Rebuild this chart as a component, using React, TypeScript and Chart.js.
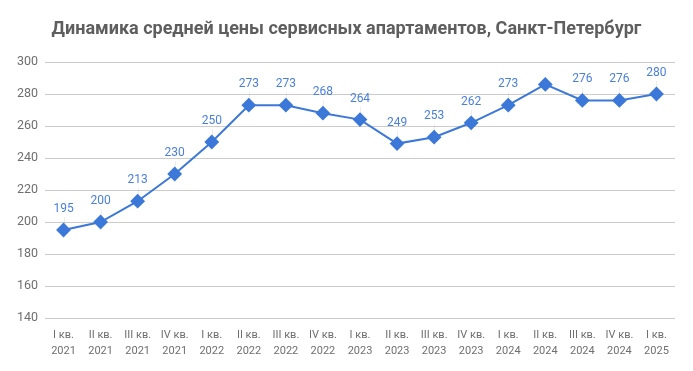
import React, { useEffect, useRef } from "react";
import { Chart, registerables } from "chart.js";

Chart.register(...registerables);

const TITLE = "Динамика средней цены сервисных апартаментов, Санкт-Петербург";
const quarters = ["I кв.", "II кв.", "III кв.", "IV кв.", "I кв.", "II кв.", "III кв.", "IV кв.", "I кв.", "II кв.", "III кв.", "IV кв.", "I кв.", "II кв.", "III кв.", "IV кв.", "I кв."];
const years = ["2021", "2021", "2021", "2021", "2022", "2022", "2022", "2022", "2023", "2023", "2023", "2023", "2024", "2024", "2024", "2024", "2025"];
const prices = [195, 200, 213, 230, 250, 273, 273, 268, 264, 249, 253, 262, 273, 286, 276, 276, 280];
const showLabel = [true, true, true, true, true, true, true, true, true, true, true, true, true, false, true, true, true];
const yTicks = [140, 160, 180, 200, 220, 240, 260, 280, 300];

const LINE = "#3c78d8";
const LABEL = "#4a7fdc";
const FONT = "Roboto, 'Noto Sans', sans-serif";

const labelPlugin = {
  id: "labelsAndTitle",
  afterDatasetsDraw(chart: any) {
    const ctx = chart.ctx;
    const meta = chart.getDatasetMeta(0);
    ctx.save();
    ctx.font = `12px ${FONT}`;
    ctx.textAlign = "center";
    ctx.textBaseline = "middle";
    meta.data.forEach((pt: any, i: number) => {
      if (!showLabel[i]) return;
      const x = pt.x;
      const y = pt.y;
      ctx.strokeStyle = "rgba(0,0,0,0.07)";
      ctx.lineWidth = 1;
      ctx.beginPath();
      ctx.moveTo(Math.round(x) + 0.5, y - 13);
      ctx.lineTo(Math.round(x) + 0.5, y - 6);
      ctx.stroke();
      ctx.fillStyle = LABEL;
      ctx.fillText(String(prices[i]), x, y - 21);
    });
    ctx.font = `bold 18px ${FONT}`;
    ctx.fillStyle = "#5e5e5e";
    ctx.fillText(TITLE, chart.width / 2, 29);
    ctx.restore();
  },
};

export default function App() {
  const ref = useRef<HTMLCanvasElement>(null);
  useEffect(() => {
    document.body.style.margin = "0";
    const chart = new Chart(ref.current!, {
      type: "line",
      data: {
        labels: quarters.map((q, i) => [q, years[i]]),
        datasets: [
          {
            data: prices,
            borderColor: LINE,
            backgroundColor: LINE,
            borderWidth: 2,
            pointStyle: "rectRot",
            pointRadius: 6,
            pointHoverRadius: 6,
            tension: 0,
          },
        ],
      },
      options: {
        animation: false,
        responsive: false,
        layout: { padding: { top: 62, right: 18, bottom: 0, left: 0 } },
        plugins: {
          legend: { display: false },
          title: { display: false },
          tooltip: { enabled: false },
        },
        scales: {
          x: {
            offset: true,
            grid: { display: false, drawTicks: false },
            border: { display: false },
            afterFit: (s: any) => {
              s.height = 53;
            },
            ticks: {
              autoSkip: false,
              maxRotation: 0,
              padding: 9,
              color: "#6f6f6f",
              font: { family: FONT, size: 11, lineHeight: 1.45 },
            },
          },
          y: {
            min: 140,
            max: 300,
            afterBuildTicks: (s: any) => {
              s.ticks = yTicks.map((v) => ({ value: v }));
            },
            afterFit: (s: any) => {
              s.width = 45;
            },
            grid: { color: "#cccccc", drawTicks: false },
            border: { display: false },
            ticks: {
              padding: 7,
              color: "#6f6f6f",
              font: { family: FONT, size: 12.5 },
            },
          },
        },
      },
      plugins: [labelPlugin],
    } as any);
    return () => chart.destroy();
  }, []);
  return (
    <div style={{ position: "absolute", left: 0, top: 0, width: 693, height: 371 }}>
      <canvas ref={ref} width={693} height={371} style={{ display: "block" }} />
    </div>
  );
}
